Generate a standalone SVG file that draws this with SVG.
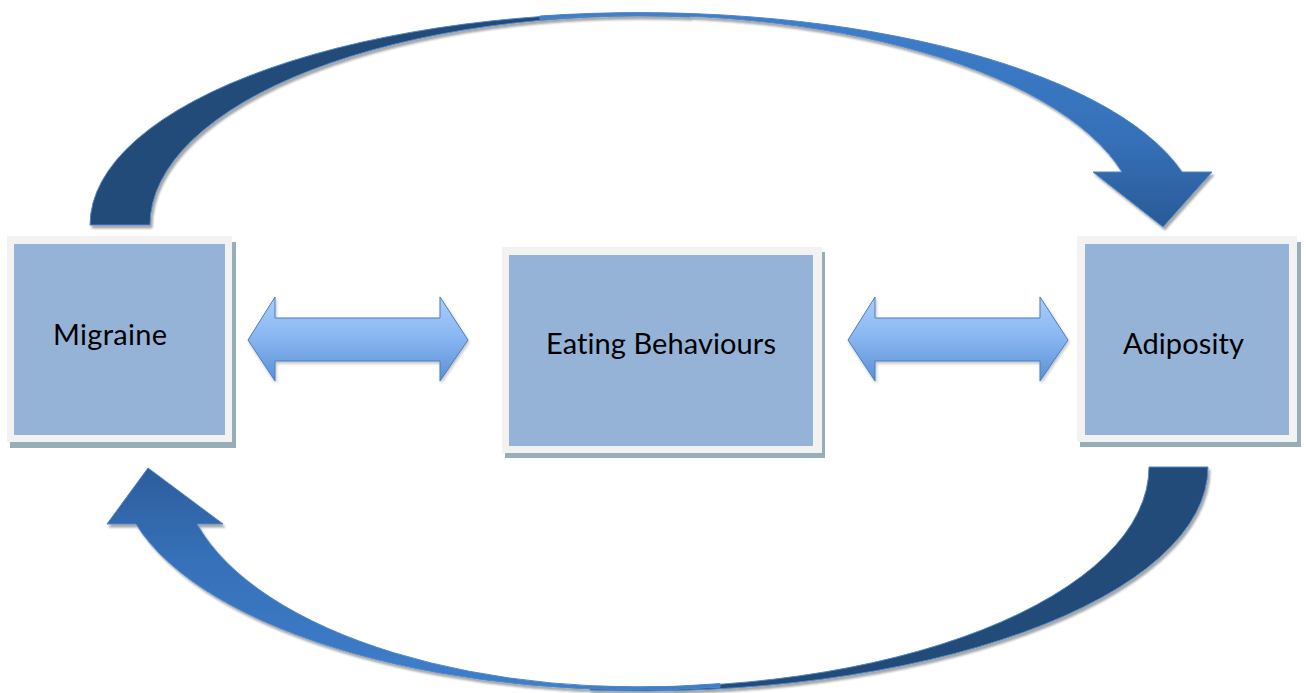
<svg xmlns="http://www.w3.org/2000/svg" width="1306" height="693" viewBox="0 0 1306 693">
<defs>
<linearGradient id="gTop" gradientUnits="userSpaceOnUse" x1="0" y1="13" x2="0" y2="227">
<stop offset="0" stop-color="#3e7ecb"/><stop offset="0.6" stop-color="#3570b8"/><stop offset="1" stop-color="#2a5a97"/>
</linearGradient>
<linearGradient id="gBot" gradientUnits="userSpaceOnUse" x1="0" y1="690" x2="0" y2="468">
<stop offset="0" stop-color="#3e7ecb"/><stop offset="0.6" stop-color="#3670b8"/><stop offset="1" stop-color="#2c5d9c"/>
</linearGradient>
<linearGradient id="gDbl" x1="0" y1="0" x2="0" y2="1">
<stop offset="0" stop-color="#a9cdfb"/><stop offset="0.45" stop-color="#8bb8f2"/><stop offset="1" stop-color="#5a90d6"/>
</linearGradient>
<filter id="sh" x="-10%" y="-10%" width="120%" height="130%">
<feDropShadow dx="2" dy="3" stdDeviation="1.2" flood-color="#000" flood-opacity="0.35"/>
</filter>
<filter id="sh2" x="-10%" y="-10%" width="120%" height="130%">
<feDropShadow dx="1" dy="2" stdDeviation="1.5" flood-color="#000" flood-opacity="0.25"/>
</filter>
</defs>
<style>
.shadow{fill:#97adb8}
.frame{fill:#f2f2f2}
.inner{fill:#95b3d7}
.lbl{font-family:Lato,"Liberation Sans",sans-serif;font-size:29px;fill:#000;font-variant-ligatures:none}
.back{fill:#234c79;stroke:#4f86c6;stroke-width:1}
.dbl{fill:url(#gDbl);stroke:#4a7ebb;stroke-width:1}
</style>
<rect width="1306" height="693" fill="#fff"/>
<g id="connectors">
<g id="top-arrow" filter="url(#sh)">
<path class="back" d="M90 225 A550 212 0 0 1 690 13.9 L690 17.1 A490 209 0 0 0 150 225 Z"/>
<path fill="url(#gTop)" stroke="#4f86c6" stroke-width="1" d="M540 16 A560 212 0 0 1 1182 172 L1212 172 L1163 227 L1093 172 L1122 172 A498 209 0 0 0 540 19.5 Z"/>
</g>
<g id="bottom-arrow" filter="url(#sh)">
<path class="back" d="M1208 467 A568 224 0 0 1 590 690.1 L590 685.9 A509 220 0 0 0 1149 467 Z"/>
<path fill="url(#gBot)" stroke="#4f86c6" stroke-width="1" d="M720 687.3 A521 223 0 0 1 136 524 L107 524 L148 468 L223 524 L197 524 A458 220 0 0 0 720 683.6 Z"/>
</g>
<path class="dbl" filter="url(#sh2)" d="M248 340 L275 297 L275 318 L440 318 L440 297 L468 340 L440 381 L440 361 L275 361 L275 381 Z"/>
<path class="dbl" filter="url(#sh2)" d="M848 340 L875 297 L875 318 L1040 318 L1040 297 L1068 340 L1040 381 L1040 361 L875 361 L875 381 Z"/>
</g>
<g id="migraine">
<rect class="shadow" x="10" y="242" width="226" height="206"/>
<rect class="frame" x="7" y="236" width="225" height="206"/>
<rect class="inner" x="14" y="244" width="211" height="191"/>
<text class="lbl" x="53" y="345" textLength="114">Migraine</text>
</g>
<g id="eating">
<rect class="shadow" x="505" y="252" width="320" height="206"/>
<rect class="frame" x="502" y="247" width="320" height="206"/>
<rect class="inner" x="509" y="255" width="304" height="191"/>
<text class="lbl" x="546" y="354" textLength="230">Eating Behaviours</text>
</g>
<g id="adiposity">
<rect class="shadow" x="1080" y="242" width="221" height="205"/>
<rect class="frame" x="1077" y="236" width="220" height="206"/>
<rect class="inner" x="1085" y="244" width="204" height="191"/>
<text class="lbl" x="1123" y="354" textLength="121">Adiposity</text>
</g>
</svg>
